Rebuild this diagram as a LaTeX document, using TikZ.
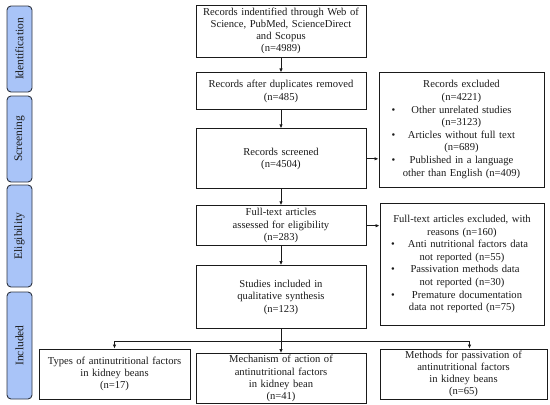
\documentclass[tikz,border=0pt]{standalone}
\usepackage{fontspec}
\setmainfont{Liberation Serif}
\usepackage{xcolor}
\usetikzlibrary{arrows.meta,positioning,calc}
\definecolor{stagefill}{HTML}{A9C4F8}
\definecolor{stageline}{HTML}{2E3440}
\definecolor{ink}{HTML}{1A1A1A}
\newcommand{\bitem}[2]{\makebox[\hsize]{\rlap{\hspace{#1}\textbullet}\hfill#2\hfill}}

\begin{document}
\begin{tikzpicture}[x=1pt, y=-1pt,
  box/.style={draw=ink, line width=0.9pt, align=center, inner xsep=2pt,
              inner ysep=1pt, text=ink, font=\fontsize{10.6}{12.6}\selectfont},
  tight/.style={font=\fontsize{10.6}{12.1}\selectfont, inner ysep=0pt},
  stagebox/.style={draw=stageline, fill=stagefill, rounded corners=4pt,
              line width=0.9pt, rotate=90, minimum height=25pt,
              inner sep=1pt, text=ink, font=\fontsize{11.5}{12}\selectfont},
  arr/.style={-{Latex[length=4pt,width=3.5pt]}, ink, line width=0.8pt}
]
\useasboundingbox (0,0) rectangle (550,405);
% stage labels
\node[stagebox, minimum width=86pt] (sideId) at (19.5,49) {Identification};
\node[stagebox, minimum width=86pt] (sideScr) at (19.5,139) {Screening};
\node[stagebox, minimum width=102pt] (sideElig) at (19.5,236) {Eligibility};
\node[stagebox, minimum width=107pt] (sideIncl) at (19.5,345.5) {Included};
% main column
\node[box, tight, minimum width=170pt, minimum height=52pt, text width=165pt] (ident) at (281,31)
  {Records indentified through Web of\\Science, PubMed, ScienceDirect\\and Scopus\\(n=4989)};
\node[box, minimum width=170pt, minimum height=37pt, text width=165pt, below=15pt of ident] (dupl)
  {Records after duplicates removed\\(n=485)};
\node[box, minimum width=170pt, minimum height=60pt, text width=165pt, below=18pt of dupl] (screened)
  {Records screened\\(n=4504)};
\node[box, minimum width=170pt, minimum height=40pt, text width=165pt, below=16pt of screened] (fulltext)
  {Full-text articles\\assessed for eligibility\\(n=283)};
\node[box, minimum width=170pt, minimum height=63pt, text width=165pt, below=19pt of fulltext] (included)
  {Studies included in\\qualitative synthesis\\(n=123)};
% exclusions
\node[box, minimum width=165pt, minimum height=115pt, text width=158pt] (excl) at (461.5,129.5)
  {Records excluded\\(n=4221)\\
   \bitem{9pt}{Other unrelated studies}\\(n=3123)\\
   \bitem{9pt}{Articles without full text}\\(n=689)\\
   \bitem{9pt}{Published in a language}\\other than English (n=409)};
\node[box, minimum width=164pt, minimum height=122pt, text width=158pt] (fullexcl) at (462,264)
  {Full-text articles excluded, with\\reasons (n=160)\\
   \bitem{8pt}{\hspace{12pt}Anti nutritional factors data}\\not reported (n=55)\\
   \bitem{8pt}{\hspace{6pt}Passivation methods data}\\not reported (n=30)\\
   \bitem{8pt}{\hspace{10pt}Premature documentation}\\data not reported (n=75)};
% included studies
\node[box, tight, minimum width=170pt, minimum height=50pt, text width=165pt, below=24pt of included] (mech)
  {Mechanism of action of\\antinutritional factors\\in kidney bean\\(n=41)};
\node[box, tight, minimum width=151pt, minimum height=50pt, text width=146pt] (types) at (114.5,374)
  {Types of antinutritional factors\\in kidney beans\\(n=17)};
\node[box, tight, minimum width=167pt, minimum height=50pt, text width=162pt] (passiv) at (463.5,374)
  {Methods for passivation of\\antinutritional factors\\in kidney beans\\(n=65)};
% connectors
\draw[arr] (ident) -- (dupl);
\draw[arr] (dupl) -- (screened);
\draw[arr] (screened) -- (fulltext);
\draw[arr] (fulltext) -- (included);
\draw[arr] (screened.east) -- (screened.east -| excl.west);
\draw[arr] (fulltext.east) -- (fulltext.east -| fullexcl.west);
\coordinate (split) at ($(included.south)+(0,12)$);
\draw[arr] (included) -- (mech);
\draw[arr] (split) -| (types);
\draw[arr] (split) -| ([xshift=6pt]passiv.north);
\end{tikzpicture}
\end{document}
